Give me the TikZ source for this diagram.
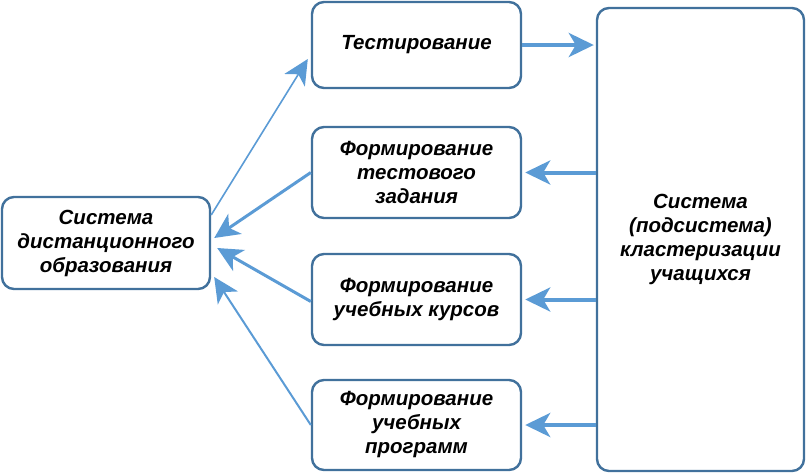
\documentclass[tikz,border=0pt]{standalone}
\usepackage{fontspec}
\setmainfont{Liberation Sans}
\usetikzlibrary{arrows.meta,positioning}
\definecolor{boxblue}{HTML}{41719C}
\definecolor{arrblue}{HTML}{5B9BD5}

\begin{document}
\begin{tikzpicture}[x=1pt,y=-1pt,
    box/.style={draw=boxblue,line width=2.4pt,rounded corners=12pt,fill=white,
                align=center,inner sep=0pt,
                font=\fontsize{20.5}{24}\selectfont\bfseries\itshape},
    arrow/.style={draw=arrblue,line width=#1,
                  -{Stealth[length=25pt,width=24pt,inset=7pt]}},
    arrow/.default=2pt]
    \useasboundingbox (0,0) rectangle (807,475);
    \node[box,minimum width=208pt,minimum height=92pt] (sdo) at (106,243)
         {Система\\дистанционного\\образования};
    \node[box,minimum width=209pt,minimum height=86pt] (test) at (416.5,45)
         {Тестирование};
    \node[box,minimum width=209pt,minimum height=91pt] (ftz) at (416.5,172.5)
         {Формирование\\тестового\\задания};
    \node[box,minimum width=209pt,minimum height=91pt] (fuk) at (416.5,299.5)
         {Формирование\\учебных курсов};
    \node[box,minimum width=209pt,minimum height=90pt] (fup) at (416.5,425)
         {Формирование\\учебных\\программ};
    \node[box,minimum width=207pt,minimum height=463pt] (klast) at (700.5,239.5)
         {Система\\(подсистема)\\кластеризации\\учащихся};
    \draw[arrow=1.6pt] ([yshift=28pt]sdo.east) -- ([yshift=-14pt,xshift=-3pt]test.west);
    \draw[arrow=3pt] (ftz.west) -- ([yshift=5pt,xshift=3pt]sdo.east);
    \draw[arrow=3pt] ([yshift=-2pt]fuk.west) -- ([yshift=-5pt,xshift=6pt]sdo.east);
    \draw[arrow=2pt] (fup.west) -- ([yshift=-34pt,xshift=3pt]sdo.east);
    \draw[arrow=4pt,shorten >=2pt] (test.east) -- (test.east -| klast.west);
    \draw[arrow=4pt,shorten >=3pt] (ftz.east -| klast.west) -- (ftz.east);
    \draw[arrow=4pt,shorten >=3pt] (fuk.east -| klast.west) -- (fuk.east);
    \draw[arrow=4pt,shorten >=3pt] (fup.east -| klast.west) -- (fup.east);
\end{tikzpicture}
\end{document}
